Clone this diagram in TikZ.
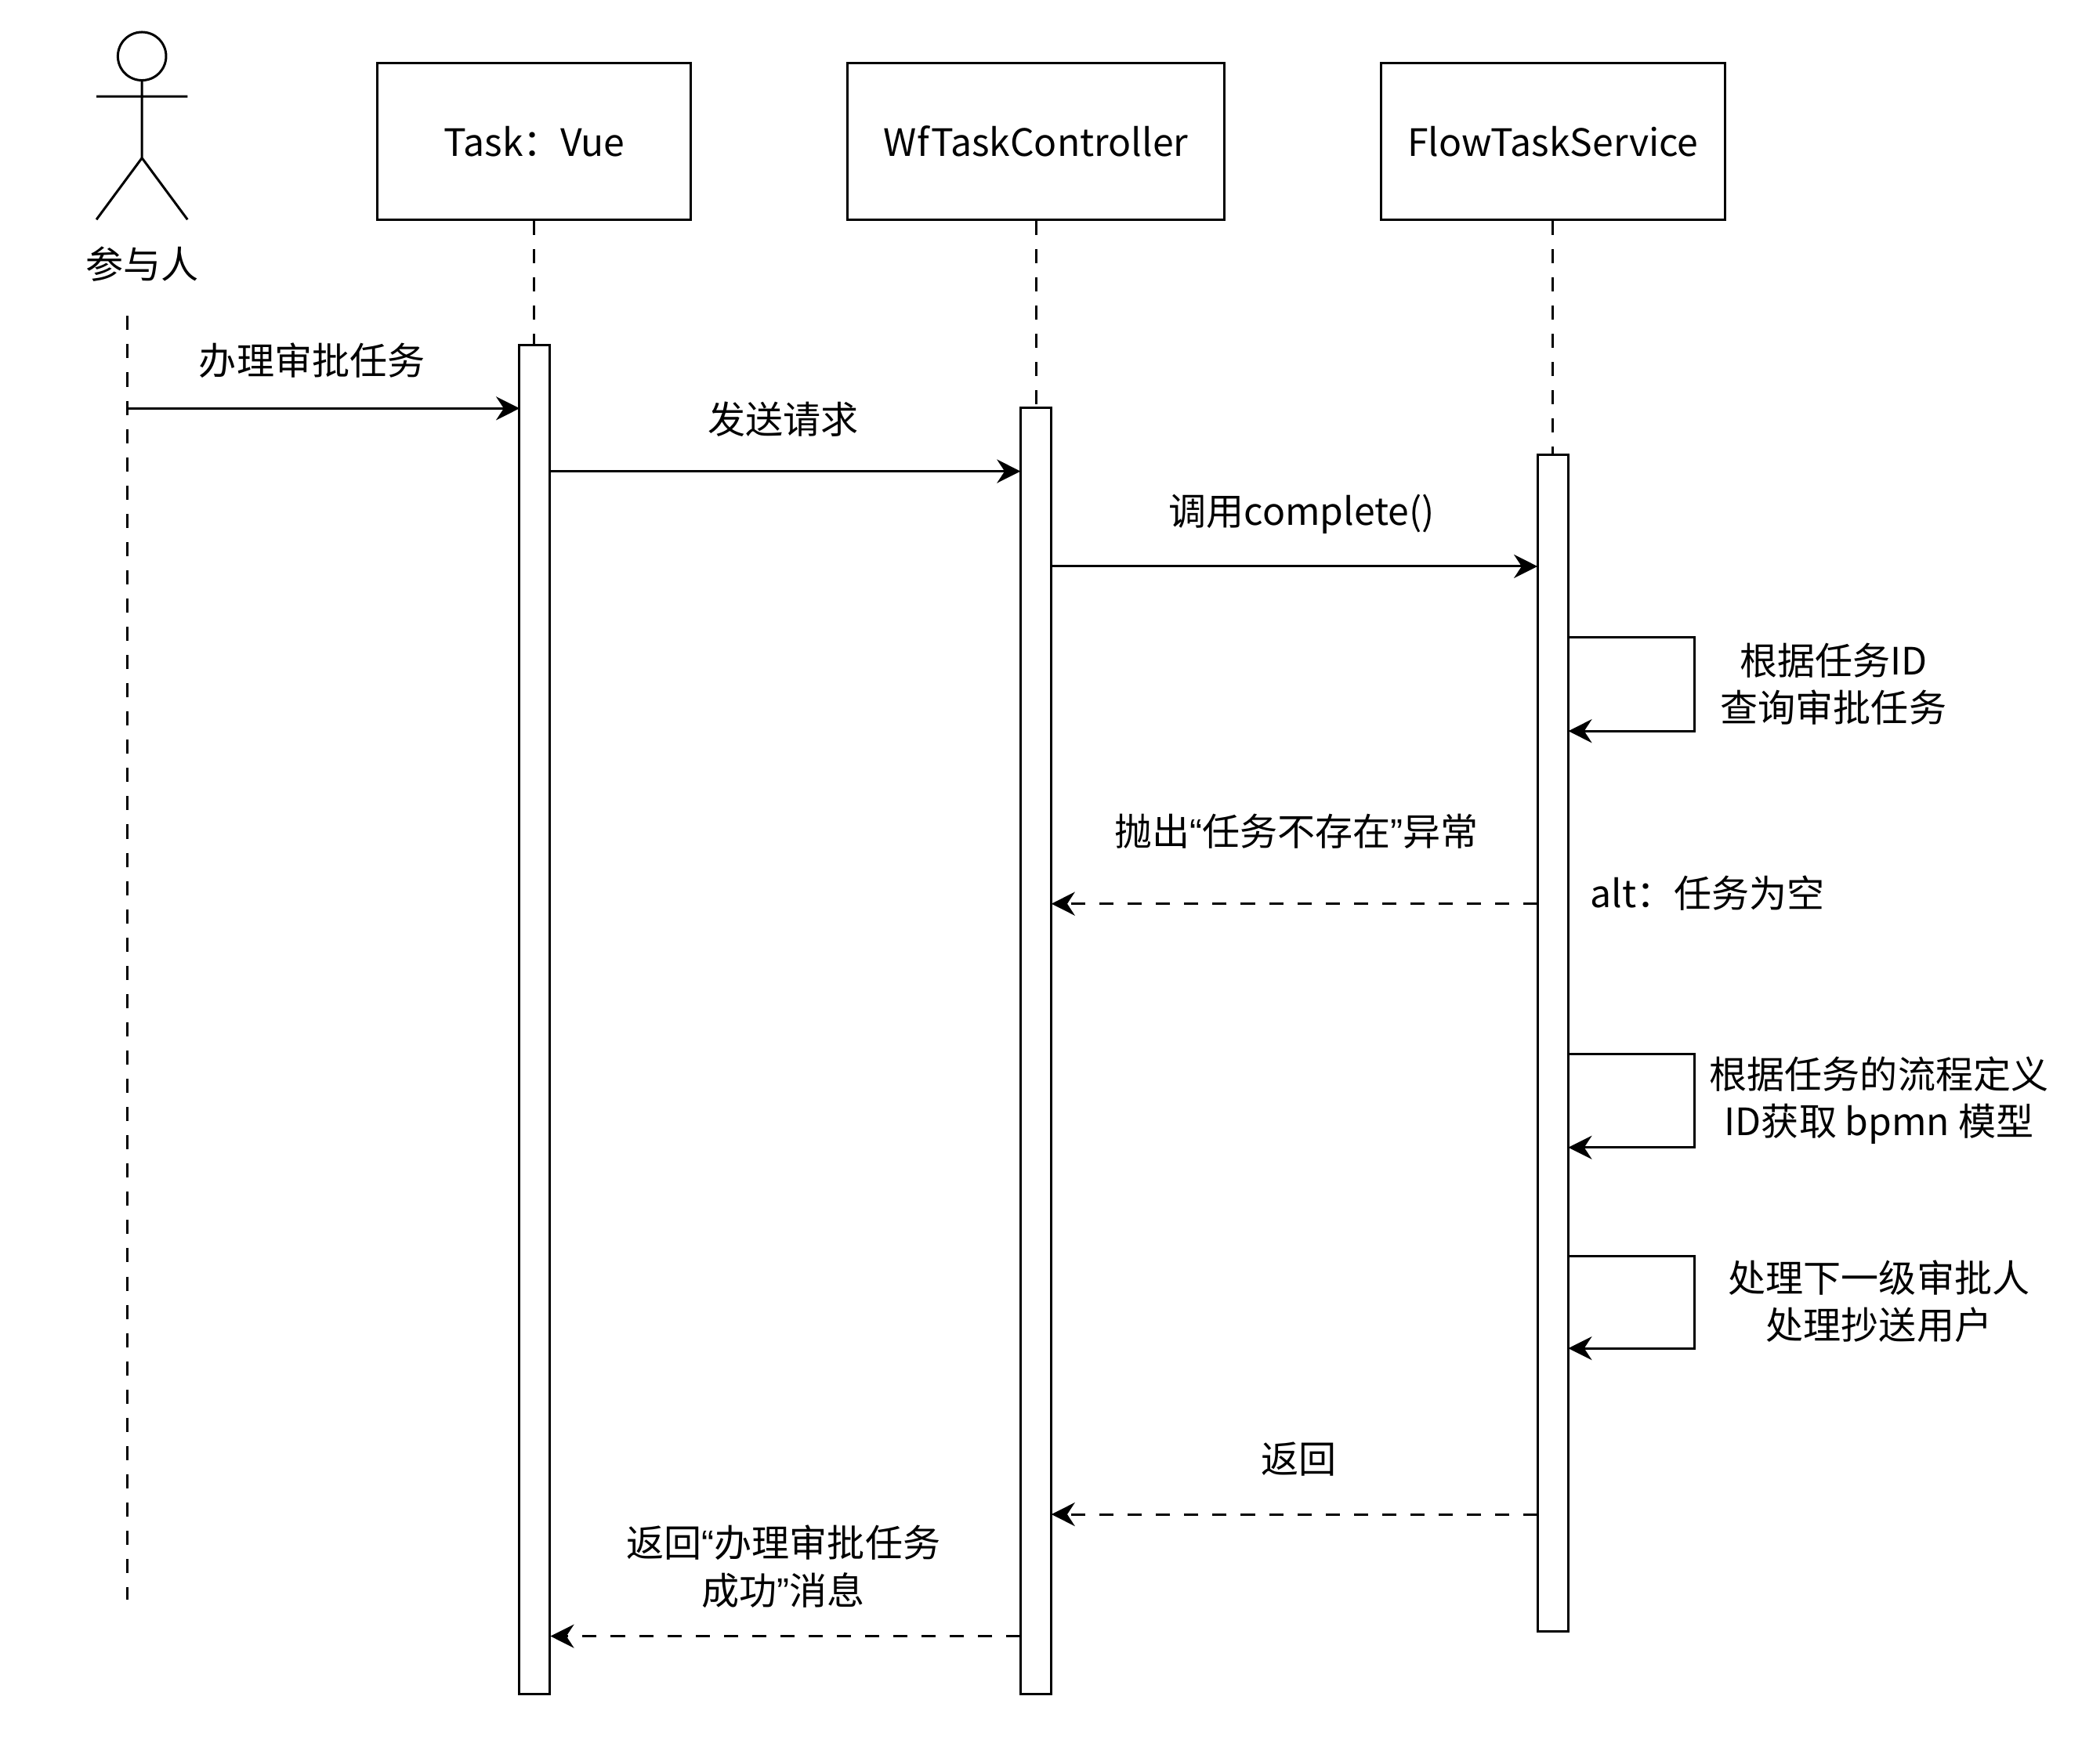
\documentclass[tikz,border=0pt]{standalone}
\usepackage{fontspec}
\setmainfont{Noto Sans CJK SC}
\newfontfamily\latq{Liberation Sans}
\usetikzlibrary{arrows.meta}
\begin{document}
\begin{tikzpicture}[x=0.01cm,y=-0.01cm,
  box/.style={draw,line width=0.5pt,minimum width=#1*0.01cm,minimum height=1.17cm,inner sep=0pt},
  act/.style={draw,fill=white,line width=0.5pt,minimum width=0.23cm,inner sep=0pt},
  life/.style={dashed,line width=0.5pt},
  msg/.style={-{Stealth[length=5pt,width=5pt]},line width=0.5pt},
  ret/.style={msg,dashed},
  lbl/.style={font=\fontsize{8}{10}\selectfont,align=center}]
\useasboundingbox (0,0) rectangle (1568,1310);
% actor
\node[draw,circle,minimum size=0.36cm,inner sep=0pt,line width=0.5pt] (head) at (106,42) {};
\coordinate (hip) at (106,118);
\coordinate (al) at (72,72); \coordinate (ar) at (140,72);
\coordinate (ll) at (72,164); \coordinate (lr) at (140,164);
\draw[line width=0.5pt] (head.south) -- (hip) (al) -- (ar) (ll) -- (hip) -- (lr);
\node[lbl] (actor) at (106,197) {参与人};
\coordinate (a0) at (95,236); \coordinate (a1) at (95,1195);
\draw[life] (a0) -- (a1);
% boxes
\node[box=234,lbl] (b1) at (399,105.5) {Task：Vue};
\node[box=281,lbl] (b2) at (773.5,105.5) {WfTaskController};
\node[box=257,lbl] (b3) at (1159.5,105.5) {FlowTaskService};
\node[act,minimum height=10.07cm] (v1) at (399,761.5) {};
\node[act,minimum height=9.60cm] (v2) at (773.5,785) {};
\node[act,minimum height=8.78cm] (v3) at (1159.5,779) {};
\draw[life] (b1.south) -- (v1.north);
\draw[life] (b2.south) -- (v2.north);
\draw[life] (b3.south) -- (v3.north);
% messages
\coordinate (m1s) at (95,305); \coordinate (m1e) at (388,305);
\draw[msg] (m1s) -- (m1e);
\node[lbl] (l1) at (233,269) {办理审批任务};
\coordinate (m2s) at (411,352); \coordinate (m2e) at (762,352);
\draw[msg] (m2s) -- (m2e);
\node[lbl] (l2) at (585,313) {发送请求};
\coordinate (m3s) at (785,423); \coordinate (m3e) at (1148,423);
\draw[msg] (m3s) -- (m3e);
\node[lbl] (l3) at (972,384) {调用complete()};
% self calls
\coordinate (s1a) at (1171,476); \coordinate (s1b) at (1171,546);
\draw[msg] (s1a) -- (1265,476) -- (1265,546) -- (s1b);
\node[lbl] (l4) at (1369,511) {根据任务ID\\查询审批任务};
\coordinate (r1s) at (1148,675); \coordinate (r1e) at (785,675);
\draw[ret] (r1s) -- (r1e);
\node[lbl] (l5) at (968,621) {抛出{\latq “}任务不存在{\latq ”}异常};
\node[lbl] (l6) at (1275,667) {alt：任务为空};
\coordinate (s2a) at (1171,787); \coordinate (s2b) at (1171,857);
\draw[msg] (s2a) -- (1265,787) -- (1265,857) -- (s2b);
\node[lbl] (l7) at (1403,822) {根据任务的流程定义\\ID获取 bpmn 模型};
\coordinate (s3a) at (1171,938); \coordinate (s3b) at (1171,1007);
\draw[msg] (s3a) -- (1265,938) -- (1265,1007) -- (s3b);
\node[lbl] (l8) at (1403,972) {处理下一级审批人\\处理抄送用户};
\coordinate (r2s) at (1148,1131); \coordinate (r2e) at (785,1131);
\draw[ret] (r2s) -- (r2e);
\node[lbl] (l9) at (970,1090) {返回};
\coordinate (r3s) at (762,1222); \coordinate (r3e) at (411,1222);
\draw[ret] (r3s) -- (r3e);
\node[lbl] (l10) at (585,1170) {返回{\latq “}办理审批任务\\成功{\latq ”}消息};
\end{tikzpicture}
\end{document}
